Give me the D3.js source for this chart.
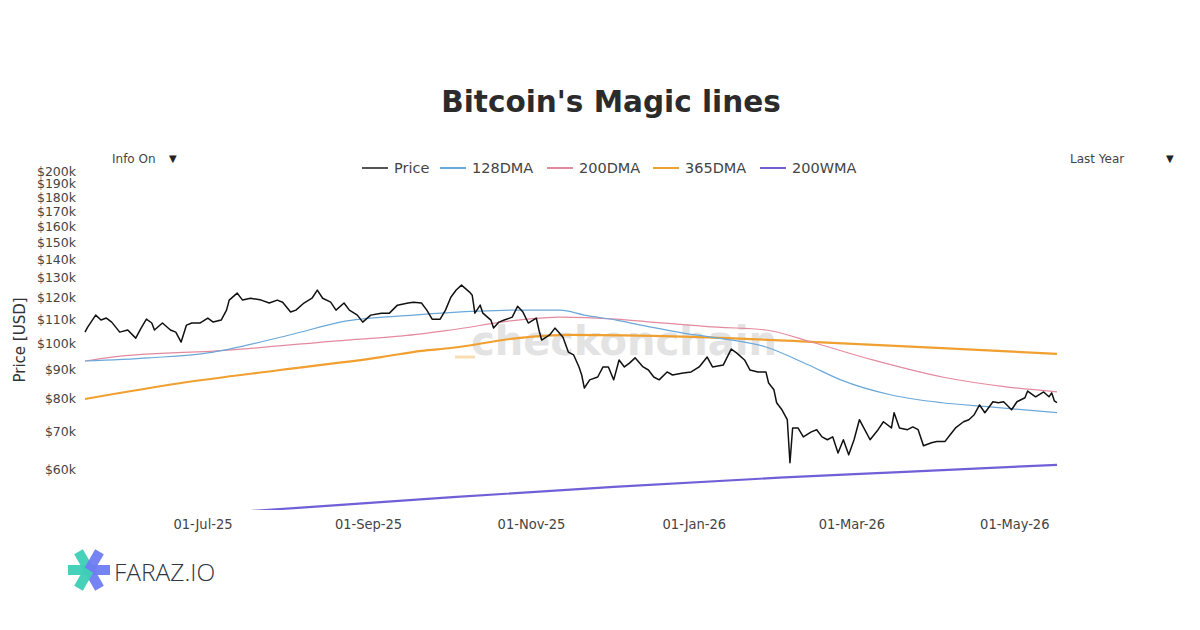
<!DOCTYPE html>
<html>
<head>
<meta charset="utf-8">
<script src="https://cdn.jsdelivr.net/npm/d3@7"></script>
<style>
  html, body { margin: 0; padding: 0; background: #fff; }
  svg { display: block; }
</style>
</head>
<body>
<svg id="chart" width="1200" height="630"></svg>
<script>
// ---------------- DATA (values in thousands of USD) ----------------
const priceDates = [
"2025-05-18","2025-05-19","2025-05-22","2025-05-24","2025-05-26","2025-05-28","2025-05-31",
"2025-06-03","2025-06-06","2025-06-08","2025-06-10","2025-06-12","2025-06-13","2025-06-16","2025-06-19","2025-06-21","2025-06-23","2025-06-25","2025-06-27","2025-06-30",
"2025-07-03","2025-07-05","2025-07-08","2025-07-10","2025-07-11","2025-07-14","2025-07-16","2025-07-19","2025-07-23","2025-07-26","2025-07-29","2025-07-31",
"2025-08-03","2025-08-05","2025-08-08","2025-08-11","2025-08-13","2025-08-15","2025-08-18","2025-08-20","2025-08-23","2025-08-25","2025-08-28","2025-08-30",
"2025-09-02","2025-09-06","2025-09-09","2025-09-12","2025-09-16","2025-09-18","2025-09-21","2025-09-23","2025-09-25","2025-09-28","2025-09-30",
"2025-10-02","2025-10-04","2025-10-06","2025-10-09","2025-10-10","2025-10-11","2025-10-13","2025-10-14","2025-10-17","2025-10-18","2025-10-20","2025-10-22","2025-10-25","2025-10-27","2025-10-29","2025-10-31",
"2025-11-03","2025-11-04","2025-11-05","2025-11-08","2025-11-10","2025-11-13","2025-11-15","2025-11-17","2025-11-19","2025-11-20","2025-11-21","2025-11-23","2025-11-26","2025-11-28","2025-11-30",
"2025-12-02","2025-12-04","2025-12-06","2025-12-08","2025-12-10","2025-12-13","2025-12-15","2025-12-17","2025-12-19","2025-12-22","2025-12-24","2025-12-28","2025-12-31",
"2026-01-03","2026-01-06","2026-01-08","2026-01-12","2026-01-15","2026-01-17","2026-01-20","2026-01-22","2026-01-25","2026-01-28","2026-01-29","2026-01-31",
"2026-02-01","2026-02-03","2026-02-05","2026-02-06","2026-02-07","2026-02-09","2026-02-11","2026-02-14","2026-02-16","2026-02-18","2026-02-20","2026-02-22","2026-02-24","2026-02-26","2026-02-28",
"2026-03-02","2026-03-04","2026-03-06","2026-03-08","2026-03-11","2026-03-13","2026-03-16","2026-03-17","2026-03-19","2026-03-22","2026-03-24","2026-03-26","2026-03-28","2026-03-31",
"2026-04-02","2026-04-05","2026-04-07","2026-04-09","2026-04-12","2026-04-14","2026-04-16","2026-04-18","2026-04-20","2026-04-23","2026-04-25","2026-04-27","2026-04-30",
"2026-05-02","2026-05-05","2026-05-06","2026-05-09","2026-05-12","2026-05-14","2026-05-15","2026-05-16","2026-05-17"
];
const priceValues = [
104.5,106.6,111.9,109.7,110.6,108.8,104.5,
105.4,102.0,106.2,110.1,108.4,105.4,108.4,105.4,104.5,100.4,107.5,108.4,108.4,
110.6,108.8,109.7,114.2,118.9,122.3,118.9,119.8,118.9,117.5,118.9,117.9,
113.3,114.2,117.5,119.8,123.8,119.8,117.9,114.2,117.5,114.2,111.9,108.8,
111.9,112.8,112.8,116.5,117.5,117.9,117.5,114.2,110.1,110.1,114.2,
120.3,123.8,126.3,122.8,121.3,112.8,116.5,112.8,109.7,106.2,108.8,109.7,111.0,116.0,113.3,108.4,
110.6,105.4,101.2,103.3,106.2,102.4,96.4,95.3,90.8,87.9,83.4,86.2,87.2,90.8,90.8,
86.2,93.4,90.8,92.3,94.2,90.8,89.7,87.2,86.2,89.0,87.9,88.6,89.0,
90.8,94.5,90.8,91.5,97.6,96.1,93.4,89.7,89.0,89.0,85.1,82.8,
78.6,76.4,73.4,61.7,71.0,71.0,68.5,69.9,70.5,68.5,67.7,68.5,64.2,67.7,63.7,
67.7,73.4,70.5,67.7,70.5,72.8,71.0,75.5,71.0,70.5,71.3,70.5,66.1,66.9,
67.2,67.2,69.1,71.0,72.8,73.4,74.9,77.9,75.5,78.9,78.6,78.9,76.4,
78.9,80.2,82.4,80.5,82.1,80.5,81.8,79.2,78.6
];

const dma128Dates = ["2025-05-18","2025-06-11","2025-07-03","2025-07-11","2025-08-03","2025-08-24","2025-09-18","2025-10-12","2025-10-27","2025-11-12","2025-11-21","2025-12-03","2025-12-16","2025-12-28","2026-01-10","2026-01-28","2026-02-13","2026-02-25","2026-03-16","2026-04-04","2026-04-22","2026-05-17"];
const dma128Values = [93.0,94.2,96.1,97.6,103.4,109.3,111.9,113.7,114.2,114.2,111.9,109.7,106.6,104.1,102.0,98.4,91.5,86.2,81.1,78.6,77.3,75.5];

const dma200Dates = ["2025-05-18","2025-05-28","2025-07-11","2025-08-24","2025-09-14","2025-10-02","2025-10-27","2025-11-12","2025-12-03","2025-12-16","2026-01-10","2026-01-28","2026-02-14","2026-03-09","2026-04-04","2026-04-28","2026-05-17"];
const dma200Values = [93.0,94.5,97.2,101.2,102.9,105.4,109.7,111.0,110.1,108.8,106.6,105.4,100.4,93.4,87.2,83.8,82.1];

const dma365Dates = ["2025-05-18","2025-06-23","2025-07-30","2025-09-06","2025-09-21","2025-10-02","2025-10-27","2025-11-16","2025-12-28","2026-02-14","2026-04-04","2026-05-17"];
const dma365Values = [79.8,85.1,89.7,94.5,96.9,98.0,102.0,103.3,102.6,100.5,98.0,95.7];

const wma200Dates = ["2025-05-18","2025-08-07","2025-09-30","2025-12-02","2026-02-02","2026-03-19","2026-05-17"];
const wma200Values = [48.5,51.5,53.6,56.0,58.1,59.4,61.2];

const yTickValues = [60,70,80,90,100,110,120,130,140,150,160,170,180,190,200];
const xTickDates = ["2025-07-01","2025-09-01","2025-11-01","2026-01-01","2026-03-01","2026-05-01"];

const seriesNames = ["Price","128DMA","200DMA","365DMA","200WMA"];
const seriesColors = ["#111111","#6aa8d8","#e48aa0","#f0a030","#7060d8"];
const seriesWidths = [1.5,1.2,1.2,2.2,2.2];

// ---------------- CHART ----------------
const parse = d3.timeParse("%Y-%m-%d");
const svg = d3.select("#chart");
const plot = {left: 85, right: 1057, top: 165, bottom: 510};

const x = d3.scaleTime()
  .domain([parse("2025-05-18"), parse("2026-05-17")])
  .range([plot.left, plot.right]);
const y = d3.scaleLog()
  .domain([51, 205])
  .range([plot.bottom, plot.top]);

const FONT = "'DejaVu Sans', Verdana, sans-serif";

// Title
svg.append("text")
  .attr("x", 611).attr("y", 112)
  .attr("text-anchor", "middle")
  .attr("font-family", FONT)
  .attr("font-weight", "bold")
  .attr("font-size", 29.5)
  .attr("fill", "#2b2b2b")
  .text("Bitcoin's Magic lines");

// Dropdown-like labels
svg.append("text").attr("x", 112).attr("y", 163)
  .attr("font-family", FONT).attr("font-size", 12).attr("fill", "#444").text("Info On");
svg.append("text").attr("x", 169).attr("y", 162)
  .attr("font-family", FONT).attr("font-size", 10).attr("fill", "#222").text("▼");
svg.append("text").attr("x", 1070).attr("y", 163)
  .attr("font-family", FONT).attr("font-size", 12).attr("fill", "#444").text("Last Year");
svg.append("text").attr("x", 1166).attr("y", 162)
  .attr("font-family", FONT).attr("font-size", 10).attr("fill", "#222").text("▼");

// Watermark
svg.append("text")
  .attr("x", 624).attr("y", 355)
  .attr("text-anchor", "middle")
  .attr("font-family", FONT)
  .attr("font-weight", "bold")
  .attr("font-size", 40)
  .attr("fill", "#e3e3e3")
  .text("checkonchain");
svg.append("line")
  .attr("x1", 455).attr("x2", 475).attr("y1", 357).attr("y2", 357)
  .attr("stroke", "#f8dcb2").attr("stroke-width", 3);

// Clip
svg.append("defs").append("clipPath").attr("id", "clip")
  .append("rect")
  .attr("x", plot.left - 2).attr("y", plot.top)
  .attr("width", plot.right - plot.left + 4)
  .attr("height", plot.bottom - plot.top);

// Y axis
const yAxis = d3.axisLeft(y)
  .tickValues(yTickValues)
  .tickFormat(d => "$" + d + "k")
  .tickSize(0)
  .tickPadding(0);
const gy = svg.append("g")
  .attr("transform", `translate(${plot.left - 9},0)`)
  .call(yAxis);
gy.select(".domain").remove();
gy.selectAll("text")
  .attr("font-family", FONT)
  .attr("font-size", 12.5)
  .attr("fill", "#444");

svg.append("text")
  .attr("transform", "translate(25,340) rotate(-90)")
  .attr("text-anchor", "middle")
  .attr("font-family", FONT)
  .attr("font-size", 15)
  .attr("fill", "#333")
  .text("Price [USD]");

// X axis
const xAxis = d3.axisBottom(x)
  .tickValues(xTickDates.map(parse))
  .tickFormat(d3.timeFormat("%d-%b-%y"))
  .tickSize(0)
  .tickPadding(0);
const gx = svg.append("g")
  .attr("transform", `translate(0,${plot.bottom + 9})`)
  .call(xAxis);
gx.select(".domain").remove();
gx.selectAll("text")
  .attr("font-family", "'DejaVu Sans Condensed', 'Liberation Sans Narrow', sans-serif")
  .attr("font-size", 14.5)
  .attr("fill", "#444");

// Lines
const series = [
  {dates: priceDates, values: priceValues, curve: d3.curveLinear},
  {dates: dma128Dates, values: dma128Values, curve: d3.curveMonotoneX},
  {dates: dma200Dates, values: dma200Values, curve: d3.curveMonotoneX},
  {dates: dma365Dates, values: dma365Values, curve: d3.curveMonotoneX},
  {dates: wma200Dates, values: wma200Values, curve: d3.curveMonotoneX}
];
const lineLayer = svg.append("g").attr("clip-path", "url(#clip)");
[4,3,2,1,0].forEach(i => {
  const s = series[i];
  const pts = s.dates.map((d, k) => [parse(d), s.values[k]]);
  const line = d3.line().x(p => x(p[0])).y(p => y(p[1])).curve(s.curve);
  lineLayer.append("path")
    .attr("d", line(pts))
    .attr("fill", "none")
    .attr("stroke", seriesColors[i])
    .attr("stroke-width", seriesWidths[i])
    .attr("stroke-linejoin", "round");
});

// Legend
const legendX = [362, 440, 547, 653, 760];
const legend = svg.append("g");
seriesNames.forEach((n, i) => {
  legend.append("line")
    .attr("x1", legendX[i]).attr("x2", legendX[i] + 26)
    .attr("y1", 168).attr("y2", 168)
    .attr("stroke", i === 0 ? "#555" : seriesColors[i])
    .attr("stroke-width", 2);
  legend.append("text")
    .attr("x", legendX[i] + 32).attr("y", 173)
    .attr("font-family", FONT)
    .attr("font-size", 14.5)
    .attr("fill", "#444")
    .text(n);
});

// Logo
const logo = svg.append("g").attr("transform", "translate(89,570)");
const armDefs = [
  {a: 180, c: "#3ecfb6"}, {a: 0, c: "#6f7cf2"},
  {a: -120, c: "#3ecfb6"}, {a: 60, c: "#6f7cf2"},
  {a: 120, c: "#3ecfb6"}, {a: -60, c: "#6f7cf2"}
];
armDefs.forEach(d => {
  logo.append("rect")
    .attr("x", 0).attr("y", -5)
    .attr("width", 21).attr("height", 10)
    .attr("fill", d.c)
    .attr("opacity", 0.95)
    .attr("transform", `rotate(${d.a})`);
});
svg.append("text")
  .attr("x", 114).attr("y", 581)
  .attr("font-family", "'Open Sans', 'Noto Sans', sans-serif")
  .attr("font-size", 24.5)
  .attr("font-weight", 300)
  .attr("fill", "#2f3542")
  .text("FARAZ.IO");
</script>
</body>
</html>
